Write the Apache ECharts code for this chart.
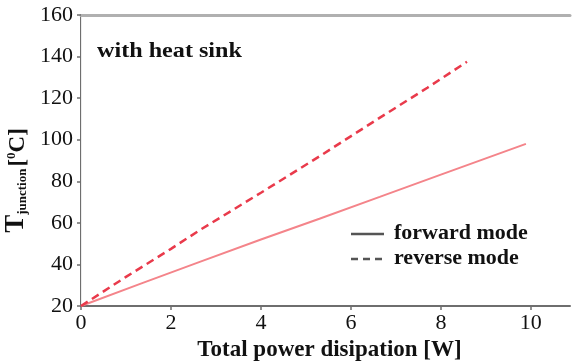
<!DOCTYPE html>
<html>
<head>
<meta charset="utf-8">
<script src="https://cdn.jsdelivr.net/npm/echarts@6/dist/echarts.min.js"></script>
<style>
  html, body { margin: 0; padding: 0; background: #fff; }
  #chart { width: 572px; height: 363px; }
</style>
</head>
<body>
<div id="chart"></div>
<script>
// Junction temperature vs. total power dissipation, heat sink fitted
const forwardPower = [0, 1.3, 2.64, 4.0, 5.3, 6.64, 8.0, 9.89];
const forwardTemp  = [20, 30.5, 41.2, 52, 62, 72.5, 83.2, 98];
const reversePower = [0, 1.0, 2.0, 2.64, 4.0, 5.3, 6.6, 7.7, 8.58];
const reverseTemp  = [20, 34, 47.5, 56.5, 74.5, 92, 110, 125, 137.5];
const xTicks = [0, 2, 4, 6, 8, 10];
const seriesNames = ['forward mode', 'reverse mode'];
const noteText = 'with heat sink';

const pairs = (xs, ys) => xs.map((x, i) => [x, ys[i]]);
const serif = 'Liberation Serif';
const ink = '#111';
const keyGray = '#555';

const chart = echarts.init(document.getElementById('chart'), null, { renderer: 'canvas' });

// Hand-built key: a short line sample plus a bold label per series
function keyItem(i, dash) {
  const y = 234 + i * 25;
  return [{
    type: 'line',
    shape: { x1: 351, y1: y, x2: 384, y2: y },
    style: { stroke: keyGray, lineWidth: 2.5, lineDash: dash }
  }, {
    type: 'text',
    x: 394, y: y,
    scaleX: 1.1,
    style: {
      text: seriesNames[i], fontFamily: serif, fontSize: 20, fontWeight: 'bold',
      fill: ink, verticalAlign: 'middle', align: 'left'
    }
  }];
}

chart.setOption({
  animation: false,
  backgroundColor: '#fff',
  grid: { left: 81, top: 15, right: 2, bottom: 57, containLabel: false, outerBoundsMode: 'none' },
  xAxis: [{
    type: 'value',
    min: 0,
    max: 10.87,
    axisLine: { show: true, onZero: false, lineStyle: { color: '#6e6e6e', width: 2 } },
    axisTick: { show: true, inside: false, length: 4, customValues: xTicks, lineStyle: { color: '#6e6e6e', width: 1.5 } },
    axisLabel: { customValues: xTicks, fontFamily: serif, fontSize: 22, color: ink, margin: 6 },
    splitLine: { show: false },
    name: 'Total power disipation [W]',
    nameLocation: 'middle',
    nameGap: 33,
    nameTextStyle: { fontFamily: serif, fontSize: 23, fontWeight: 'bold', color: ink, padding: [0, 0, 0, 8] }
  }, {
    type: 'value',
    position: 'top',
    min: 0,
    max: 10.87,
    axisLine: { show: true, lineStyle: { color: '#b0b0b0', width: 3 } },
    axisTick: { show: false },
    axisLabel: { show: false },
    splitLine: { show: false }
  }],
  yAxis: [{
    type: 'value',
    min: 20,
    max: 160,
    interval: 20,
    axisLine: { show: true, onZero: false, lineStyle: { color: '#6e6e6e', width: 2 } },
    axisTick: { show: true, inside: false, length: 4, lineStyle: { color: '#6e6e6e', width: 1.5 } },
    axisLabel: { fontFamily: serif, fontSize: 22, color: ink, margin: 8 },
    splitLine: { show: false },
    name: '{t|T}{sub|junction}{b|[}{sup|0}{b|C]}',
    nameLocation: 'middle',
    nameGap: 47,
    nameTextStyle: {
      padding: [0, 40, 0, 0],
      rich: {
        t: { fontFamily: serif, fontSize: 27, fontWeight: 'bold', color: ink, verticalAlign: 'bottom' },
        sub: { fontFamily: serif, fontSize: 13, fontWeight: 'bold', color: ink, padding: [9, 2, 0, 0], verticalAlign: 'bottom' },
        b: { fontFamily: serif, fontSize: 23, fontWeight: 'bold', color: ink, verticalAlign: 'bottom' },
        sup: { fontFamily: serif, fontSize: 13, fontWeight: 'bold', color: ink, padding: [0, 0, 11, 0], verticalAlign: 'bottom' }
      }
    }
  }, {
    type: 'value',
    position: 'right',
    min: 20,
    max: 160,
    axisLine: { show: true, lineStyle: { color: '#ececec', width: 1 } },
    axisTick: { show: false },
    axisLabel: { show: false },
    splitLine: { show: false }
  }],
  graphic: [{
    type: 'text',
    x: 97,
    y: 52,
    scaleX: 1.15,
    style: { text: noteText, fontFamily: serif, fontSize: 21, fontWeight: 'bold', fill: ink, verticalAlign: 'middle' }
  }].concat(keyItem(0, null), keyItem(1, [7, 5])),
  series: [{
    name: seriesNames[0],
    type: 'line',
    data: pairs(forwardPower, forwardTemp),
    symbol: 'none',
    lineStyle: { color: '#f4848a', width: 2, type: 'solid' },
    itemStyle: { color: '#f4848a' }
  }, {
    name: seriesNames[1],
    type: 'line',
    data: pairs(reversePower, reverseTemp),
    symbol: 'none',
    lineStyle: { color: '#e93a4b', width: 2.5, type: [8, 5] },
    itemStyle: { color: '#e93a4b' }
  }]
});
</script>
</body>
</html>
